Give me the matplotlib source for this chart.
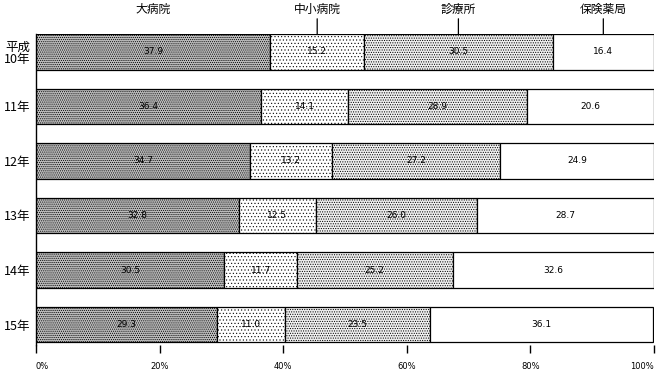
import numpy as np
import matplotlib
matplotlib.use('Agg')
import matplotlib.pyplot as plt

plt.rcParams['font.family'] = ['Noto Sans CJK JP', 'DejaVu Sans']

# データ
years = ['平成\n10年', '11年', '12年', '13年', '14年', '15年']
categories = ['大病院', '中小病院', '診療所', '保険薬局']
dai = [37.9, 36.4, 34.7, 32.8, 30.5, 29.3]
chusho = [15.2, 14.1, 13.2, 12.5, 11.7, 11.0]
shinryo = [30.5, 28.9, 27.2, 26.0, 25.2, 23.5]
yakkyoku = [16.4, 20.6, 24.9, 28.7, 32.6, 36.1]
xticks = [0, 20, 40, 60, 80, 100]

series = [dai, chusho, shinryo, yakkyoku]
hatches = ['........', '.....', '.......', '']
faces = ['#bdbdbd', 'white', '#f0f0f0', 'white']
hlw = [0.5, 0.4, 0.5, 0.5]

fig = plt.figure(figsize=(6.56, 3.71), dpi=100)
ax = fig.add_axes([36 / 656, 1 - 345 / 371, 618 / 656, (345 - 34) / 371])

y = np.arange(len(years))
left = np.zeros(len(years))
for vals, h, fc, lw in zip(series, hatches, faces, hlw):
    plt.rcParams['hatch.linewidth'] = lw
    ax.barh(y, vals, left=left, height=0.66, color=fc, edgecolor='black',
            hatch=h, linewidth=0.9)
    for yi, l, v in zip(y, left, vals):
        ax.text(l + v / 2, yi, f'{v:.1f}', ha='center', va='center',
                fontsize=6.5, family='DejaVu Sans')
    left += np.array(vals)

# 上の区分ラベル (1行目の各区分の中央)
lf = 0
for i, (name, vals) in enumerate(zip(categories, series)):
    cx = lf + vals[0] / 2
    lf += vals[0]
    if i == 0:
        ax.text(cx, -0.66, name, ha='center', va='bottom', fontsize=8.5)
    else:
        ax.annotate(name, xy=(cx, -0.33), xytext=(cx, -0.66), ha='center',
                    va='bottom', fontsize=8.5,
                    arrowprops=dict(arrowstyle='-', color='black', lw=0.9,
                                    shrinkA=0, shrinkB=0))

ax.set_xlim(0, 100)
ax.set_ylim(5.376, -0.33)
ax.set_yticks(y)
ax.set_yticklabels(years, fontsize=9, linespacing=1.0)
ax.set_xticks(xticks)
labels = ax.set_xticklabels([f'{t}%' for t in xticks], fontsize=6,
                            family='DejaVu Sans')
labels[0].set_ha('left')
labels[-1].set_ha('right')
ax.tick_params(axis='y', length=0, pad=4)
ax.tick_params(axis='x', direction='out', length=6, width=1, pad=6)
for s in ['top', 'right', 'bottom']:
    ax.spines[s].set_visible(False)
ax.spines['left'].set_linewidth(1)

fig.savefig('out.png', dpi=100)
